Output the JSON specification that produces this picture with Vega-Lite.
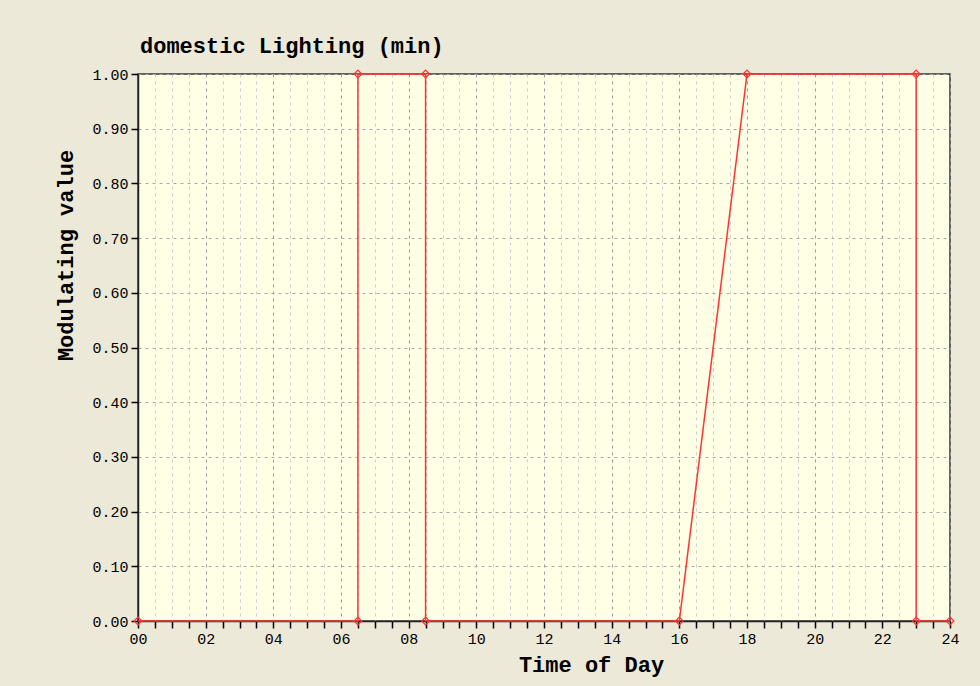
{
  "$schema": "https://vega.github.io/schema/vega-lite/v6.json",
  "width": 812,
  "height": 547,
  "autosize": {"type": "none"},
  "padding": {"left": 138, "top": 74, "right": 30, "bottom": 65},
  "background": "#ECE9D8",
  "title": {
    "text": "domestic Lighting (min)",
    "anchor": "start",
    "frame": "group",
    "font": "Liberation Mono",
    "fontSize": 22,
    "fontWeight": "bold",
    "color": "#000000",
    "baseline": "alphabetic",
    "offset": 14,
    "dx": 2,
    "dy": 22
  },
  "config": {
    "view": {"fill": "#FFFFE5", "stroke": "#333333", "strokeWidth": 1.5}
  },
  "data": {
    "values": [
      {"i": 0, "t": 0, "v": 0},
      {"i": 1, "t": 6.5, "v": 0},
      {"i": 2, "t": 6.5, "v": 1},
      {"i": 3, "t": 8.5, "v": 1},
      {"i": 4, "t": 8.5, "v": 0},
      {"i": 5, "t": 16, "v": 0},
      {"i": 6, "t": 18, "v": 1},
      {"i": 7, "t": 23, "v": 1},
      {"i": 8, "t": 23, "v": 0},
      {"i": 9, "t": 24, "v": 0}
    ]
  },
  "encoding": {
    "x": {
      "field": "t",
      "type": "quantitative",
      "scale": {"domain": [0, 24], "nice": false, "zero": false},
      "axis": {
        "values": [0,0.5,1,1.5,2,2.5,3,3.5,4,4.5,5,5.5,6,6.5,7,7.5,8,8.5,9,9.5,10,10.5,11,11.5,12,12.5,13,13.5,14,14.5,15,15.5,16,16.5,17,17.5,18,18.5,19,19.5,20,20.5,21,21.5,22,22.5,23,23.5,24],
        "labelExpr": "datum.value % 2 == 0 ? (datum.value < 10 ? '0' + datum.value : '' + datum.value) : ''",
        "labelOverlap": false,
        "labelFlush": false,
        "title": "Time of Day",
        "grid": true,
        "gridColor": {"condition": {"test": "datum.value % 2 == 0", "value": "#9a9a9a"}, "value": "#cccccc"},
        "gridDash": [3, 4],
        "gridWidth": 1,
        "tickColor": "#000000",
        "tickSize": 7,
        "tickWidth": 1.5,
        "domainColor": "#222222",
        "domainWidth": 1.5,
        "labelFont": "Liberation Mono",
        "labelFontSize": 15,
        "labelColor": "#000000",
        "labelPadding": 3,
        "titleFont": "Liberation Mono",
        "titleFontSize": 22,
        "titleFontWeight": "bold",
        "titleColor": "#000000",
        "titleX": 453,
        "titleY": 43,
        "titleAlign": "center",
        "titleBaseline": "middle"
      }
    },
    "y": {
      "field": "v",
      "type": "quantitative",
      "scale": {"domain": [0, 1], "nice": false},
      "axis": {
        "values": [0,0.1,0.2,0.3,0.4,0.5,0.6,0.7,0.8,0.9,1],
        "format": ".2f",
        "title": "Modulating value",
        "grid": true,
        "gridColor": "#a8a8a8",
        "gridDash": [3, 4],
        "gridWidth": 1,
        "tickColor": "#000000",
        "tickSize": 7,
        "tickWidth": 1.5,
        "domainColor": "#222222",
        "domainWidth": 1.5,
        "labelFont": "Liberation Mono",
        "labelFontSize": 15,
        "labelColor": "#000000",
        "labelPadding": 3,
        "titleFont": "Liberation Mono",
        "titleFontSize": 22,
        "titleFontWeight": "bold",
        "titleColor": "#000000",
        "titleX": -73,
        "titleY": 181,
        "titleAlign": "center",
        "titleBaseline": "middle",
        "titleAngle": 270
      }
    },
    "order": {"field": "i", "type": "quantitative"}
  },
  "layer": [
    {"mark": {"type": "line", "color": "#FF3333", "strokeWidth": 1.5}},
    {"mark": {"type": "point", "shape": "diamond", "filled": false, "color": "#FF3333", "size": 60, "strokeWidth": 1.2, "opacity": 1}}
  ]
}
